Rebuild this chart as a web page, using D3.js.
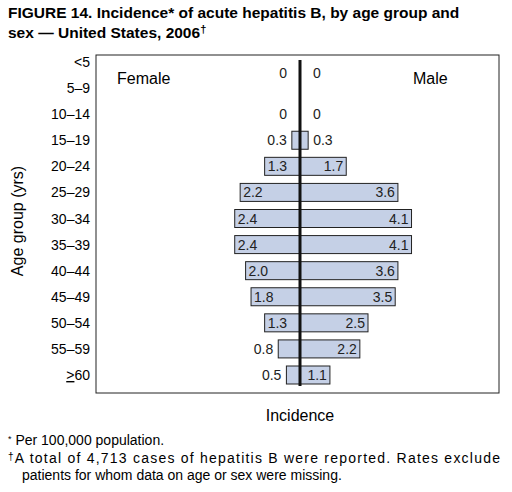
<!DOCTYPE html>
<html><head><meta charset="utf-8">
<script src="https://cdn.jsdelivr.net/npm/d3@7"></script>
<style>body{margin:0;background:#fff}svg{font-family:"Liberation Sans",Arial,sans-serif}</style>
</head><body><div id="chart"></div>
<script>
const ageGroups = ["<5","5–9","10–14","15–19","20–24","25–29","30–34","35–39","40–44","45–49","50–54","55–59","≥60"];
const female = [0, null, 0, 0.3, 1.3, 2.2, 2.4, 2.4, 2.0, 1.8, 1.3, 0.8, 0.5];
const male   = [0, null, 0, 0.3, 1.7, 3.6, 4.1, 4.1, 3.6, 3.5, 2.5, 2.2, 1.1];

const W = 512, H = 492;
const svg = d3.select("#chart").append("svg").attr("width", W).attr("height", H);

svg.append("text").attr("x", 8).attr("y", 18).attr("font-size", 15.5).attr("font-weight", "bold")
  .text("FIGURE 14. Incidence* of acute hepatitis B, by age group and");
const t2 = svg.append("text").attr("x", 8).attr("y", 38).attr("font-size", 15.5).attr("font-weight", "bold")
  .text("sex — United States, 2006");
t2.append("tspan").attr("dy", -5).attr("font-size", 11).text("†");

const box = {left: 96, right: 499, top: 55, bottom: 393};
svg.append("rect").attr("x", box.left).attr("y", box.top).attr("width", box.right - box.left)
  .attr("height", box.bottom - box.top).attr("fill", "none").attr("stroke", "#222").attr("stroke-width", 1);

const cx = 300;
const xm = d3.scaleLinear().domain([0, 1]).range([cx, cx + 27.2]);
const xf = d3.scaleLinear().domain([0, 1]).range([cx, cx - 27.2]);
const y = d3.scalePoint().domain(ageGroups).range([62, 375]);
const bh = 18;

svg.append("g").selectAll("text").data(ageGroups).join("text")
  .attr("x", 90).attr("y", d => y(d) + 5).attr("text-anchor", "end").attr("font-size", 14)
  .html(d => d === "≥60" ? '<tspan text-decoration="underline">&gt;</tspan>60' : d);

const rows = ageGroups.map((g, i) => ({g, f: female[i], m: male[i]})).filter(d => d.m !== null);
const bars = svg.append("g");
bars.selectAll("rect.m").data(rows.filter(d => d.m > 0)).join("rect")
  .attr("x", cx).attr("y", d => y(d.g) - bh / 2).attr("width", d => xm(d.m) - cx).attr("height", bh)
  .attr("fill", "#c5d0e6").attr("stroke", "#222");
bars.selectAll("rect.f").data(rows.filter(d => d.f > 0)).join("rect")
  .attr("x", d => xf(d.f)).attr("y", d => y(d.g) - bh / 2).attr("width", d => cx - xf(d.f)).attr("height", bh)
  .attr("fill", "#c5d0e6").attr("stroke", "#222");

const fmt = v => v === 0 ? "0" : v.toFixed(1);
// first row's zero sits a little lower, as in the original
const ly = d => y(d.g) + 5 + (d.g === "<5" ? 11 : 0);
const gap = v => v === 0 ? 13 : 5;
const lab = svg.append("g").attr("font-size", 14).attr("fill", "#222");
lab.selectAll("text.m").data(rows).join("text")
  .attr("y", ly)
  .attr("x", d => (xm(d.m) - cx) >= 28 ? xm(d.m) - 3 : xm(d.m) + gap(d.m))
  .attr("text-anchor", d => (xm(d.m) - cx) >= 28 ? "end" : "start")
  .text(d => fmt(d.m));
lab.selectAll("text.f").data(rows).join("text")
  .attr("y", ly)
  .attr("x", d => (cx - xf(d.f)) >= 28 ? xf(d.f) + 3 : xf(d.f) - gap(d.f))
  .attr("text-anchor", d => (cx - xf(d.f)) >= 28 ? "start" : "end")
  .text(d => fmt(d.f));

svg.append("line").attr("x1", cx).attr("x2", cx).attr("y1", 60).attr("y2", 386)
  .attr("stroke", "#111").attr("stroke-width", 3);

svg.append("text").attr("x", 117).attr("y", 84).attr("font-size", 16).text("Female");
svg.append("text").attr("x", 413).attr("y", 84).attr("font-size", 16).text("Male");
svg.append("text").attr("x", cx).attr("y", 421).attr("text-anchor", "middle").attr("font-size", 16).text("Incidence");
svg.append("text").attr("transform", "translate(23,221) rotate(-90)").attr("text-anchor", "middle")
  .attr("font-size", 16).text("Age group (yrs)");

const fn = svg.append("g").attr("font-size", 14);
fn.append("text").attr("x", 8).attr("y", 445).html('<tspan font-size="9" dy="-3">*</tspan><tspan dy="3"> Per 100,000 population.</tspan>');
fn.append("text").attr("x", 8).attr("y", 463).attr("textLength", 492).attr("lengthAdjust", "spacing")
  .html('<tspan font-size="10" dy="-3">†</tspan><tspan dy="3">A total of 4,713 cases of hepatitis B were reported. Rates exclude</tspan>');
fn.append("text").attr("x", 22).attr("y", 480).text("patients for whom data on age or sex were missing.");
</script></body></html>
